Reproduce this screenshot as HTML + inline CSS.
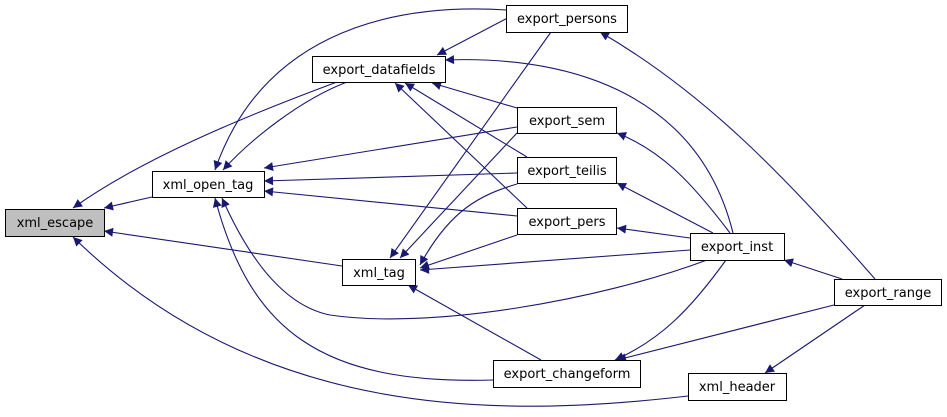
<!DOCTYPE html>
<html><head><meta charset="utf-8"><style>
html,body{margin:0;padding:0;background:#fff;}
svg{display:block;}
text{font-family:"DejaVu Sans","Liberation Sans",sans-serif;font-size:13px;fill:#000;}
</style></head><body>
<svg width="947" height="417" viewBox="0 0 947 417" xmlns="http://www.w3.org/2000/svg">
<defs>
<marker id="a" viewBox="0 0 10 10" refX="10" refY="5" markerWidth="11" markerHeight="9" markerUnits="userSpaceOnUse" orient="auto">
<path d="M0,0 L10,5 L0,10 z" fill="#191970"/></marker>
</defs>
<g fill="none" stroke="#191970" stroke-width="1.1" marker-end="url(#a)">
<path d="M337,82 C240,118 140,160 73,208"/>
<path d="M152,197 L104,208"/>
<path d="M342,266 L104,231"/>
<path d="M688,396 C500,418 260,420 73,237"/>
<path d="M507,10 C380,2 260,40 215,170"/>
<path d="M347,82 C300,100 250,140 223,170"/>
<path d="M517,127 L264,168"/>
<path d="M517,173 L264,181"/>
<path d="M517,216 L264,191"/>
<path d="M493,380 C320,385 250,330 215,198"/>
<path d="M707,260 C600,300 430,330 330,315 C280,305 245,250 222,198"/>
<path d="M517,13 L437,55"/>
<path d="M733,233 C700,100 580,55 445,60"/>
<path d="M517,108 L432,83"/>
<path d="M527,157 L405,83"/>
<path d="M527,208 L395,83"/>
<path d="M551,32 L390,258"/>
<path d="M517,133 L400,258"/>
<path d="M517,184 C480,195 450,210 420,265"/>
<path d="M517,235 L420,268"/>
<path d="M690,250 L420,270"/>
<path d="M541,360 L408,285"/>
<path d="M730,233 C690,180 660,150 617,133"/>
<path d="M713,233 L617,183"/>
<path d="M690,238 L617,228"/>
<path d="M726,260 C690,310 660,340 615,360"/>
<path d="M875,279 C780,170 700,90 600,32"/>
<path d="M842,279 L784,260"/>
<path d="M834,305 L617,360"/>
<path d="M865,305 L765,373"/>
</g>
<g stroke="#000" stroke-width="1" fill="#fff">
<rect x="5.5" y="209.5" width="99" height="27" fill="#bfbfbf"/>
<rect x="152.5" y="171.5" width="112" height="26"/>
<rect x="312.5" y="56.5" width="133" height="26"/>
<rect x="342.5" y="259.5" width="73" height="26"/>
<rect x="506.5" y="5.5" width="121" height="27"/>
<rect x="517.5" y="107.5" width="99" height="26"/>
<rect x="517.5" y="157.5" width="99" height="26"/>
<rect x="517.5" y="208.5" width="99" height="26"/>
<rect x="690.5" y="233.5" width="94" height="27"/>
<rect x="834.5" y="279.5" width="107" height="26"/>
<rect x="493.5" y="360.5" width="147" height="27"/>
<rect x="688.5" y="373.5" width="98" height="27"/>
</g>
<g text-anchor="middle">
<text x="55" y="227">xml_escape</text>
<text x="208" y="189">xml_open_tag</text>
<text x="379" y="74">export_datafields</text>
<text x="379" y="277">xml_tag</text>
<text x="567" y="23">export_persons</text>
<text x="567" y="125">export_sem</text>
<text x="567" y="175">export_teilis</text>
<text x="567" y="226">export_pers</text>
<text x="737" y="251">export_inst</text>
<text x="888" y="297">export_range</text>
<text x="567" y="378">export_changeform</text>
<text x="737" y="391">xml_header</text>
</g>
</svg>
</body></html>
